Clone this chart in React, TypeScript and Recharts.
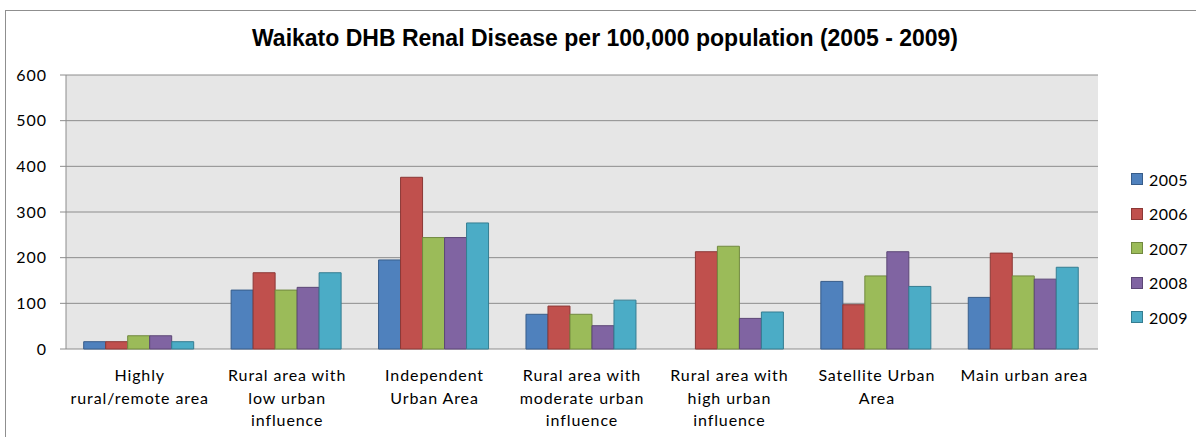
import { BarChart, Bar, XAxis, YAxis, CartesianGrid, Legend } from 'recharts'

const categoryLines: string[][] = [
  ['Highly', 'rural/remote area'],
  ['Rural area with', 'low urban', 'influence'],
  ['Independent', 'Urban Area'],
  ['Rural area with', 'moderate urban', 'influence'],
  ['Rural area with', 'high urban', 'influence'],
  ['Satellite Urban', 'Area'],
  ['Main urban area'],
]
const categories = categoryLines.map((l) => l.join(' '))

const years = ['2005', '2006', '2007', '2008', '2009']
const v2005 = [16, 129, 195, 76, 0, 148, 113]
const v2006 = [16, 167, 376, 94, 213, 97, 210]
const v2007 = [29, 129, 244, 76, 225, 160, 160]
const v2008 = [29, 135, 244, 51, 67, 213, 153]
const v2009 = [16, 167, 276, 107, 81, 137, 179]
const yTicks = [0, 100, 200, 300, 400, 500, 600]
const edgeTicks = [0, 1, 2, 3, 4, 5, 6, 7]

const FILLS = ['#4F81BD', '#C0504D', '#9BBB59', '#8064A2', '#4BACC6']
const STROKES = ['#385D8A', '#8C3836', '#71893F', '#5C4776', '#357D91']
const series = [v2005, v2006, v2007, v2008, v2009]

const data = categories.map((name, i) => {
  const row: Record<string, string | number> = { name }
  years.forEach((y, k) => {
    row[y] = series[k][i]
  })
  return row
})

const FONT = 'Lato, "Open Sans", sans-serif'
const GRID = '#8c8c8c'

function CategoryTick({ x, y, payload }: any) {
  const lines = categoryLines[payload.index] ?? [String(payload.value)]
  return (
    <text
      x={x}
      y={y}
      textAnchor="middle"
      fontFamily={FONT}
      fontSize={16}
      letterSpacing={0.9}
      fill="#000"
    >
      {lines.map((l, i) => (
        <tspan key={i} x={x} dy={i === 0 ? 32 : 22.5}>
          {l}
        </tspan>
      ))}
    </text>
  )
}

function YearLegend() {
  return (
    <div style={{ fontFamily: FONT, fontSize: 16, letterSpacing: 0.5, color: '#000' }}>
      {years.map((y, i) => (
        <div key={y} style={{ height: 34.5, display: 'flex', alignItems: 'center' }}>
          <span
            style={{
              display: 'inline-block',
              width: 10,
              height: 10,
              background: FILLS[i],
              border: `1px solid ${STROKES[i]}`,
              marginRight: 6,
            }}
          />
          <span>{y}</span>
        </div>
      ))}
    </div>
  )
}

export default function App() {
  return (
    <div
      style={{
        position: 'absolute',
        left: 0,
        top: 0,
        width: 1196,
        height: 437,
        overflow: 'hidden',
        background: '#fff',
      }}
    >
      <div
        style={{
          position: 'absolute',
          left: 5,
          top: 10,
          width: 1300,
          height: 600,
          border: '1px solid #8f8f8f',
        }}
      />
      <BarChart
        width={1196}
        height={437}
        data={data}
        margin={{ top: 75, right: 38, bottom: 28, left: 0 }}
        barGap={0}
        barCategoryGap="12%"
      >
        <text
          x={605}
          y={46}
          textAnchor="middle"
          fontFamily='"Liberation Sans", Arial, sans-serif'
          fontWeight="bold"
          fontSize={23}
          fill="#000"
        >
          Waikato DHB Renal Disease per 100,000 population (2005 - 2009)
        </text>
        <CartesianGrid xAxisId="cat" vertical={false} stroke={GRID} fill="#e6e6e6" />
        <XAxis
          xAxisId="edge"
          type="number"
          domain={[0, 7]}
          ticks={edgeTicks}
          tick={false}
          height={0}
          tickSize={6}
          axisLine={{ stroke: GRID }}
          tickLine={{ stroke: GRID }}
          allowDataOverflow
        />
        <XAxis
          xAxisId="cat"
          dataKey="name"
          height={60}
          interval={0}
          axisLine={false}
          tickLine={false}
          tickSize={0}
          tickMargin={0}
          tick={<CategoryTick />}
        />
        <YAxis
          domain={[0, 600]}
          ticks={yTicks}
          width={66}
          tickSize={6}
          tickMargin={13}
          axisLine={{ stroke: GRID }}
          tickLine={{ stroke: GRID }}
          tick={{ fontFamily: FONT, fontSize: 16, letterSpacing: 1, fill: '#000' }}
        />
        <Legend
          layout="vertical"
          align="right"
          verticalAlign="middle"
          content={<YearLegend />}
          wrapperStyle={{ left: 1131, top: 162, width: 60, right: 'auto' }}
        />
        {years.map((y, i) => (
          <Bar
            key={y}
            xAxisId="cat"
            dataKey={y}
            fill={FILLS[i]}
            stroke={STROKES[i]}
            strokeWidth={1}
            isAnimationActive={false}
          />
        ))}
      </BarChart>
    </div>
  )
}
